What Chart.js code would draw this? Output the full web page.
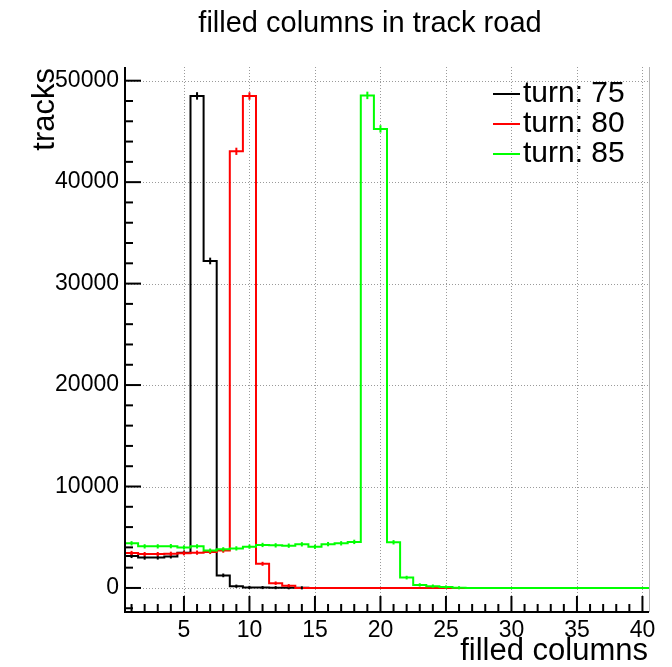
<!DOCTYPE html>
<html>
<head>
<meta charset="utf-8">
<style>
  html, body { margin: 0; padding: 0; background: #ffffff; }
  canvas { display: block; }
</style>
<script src="https://cdn.jsdelivr.net/npm/chart.js@4/dist/chart.umd.min.js"></script>
</head>
<body>
<canvas id="chart" width="672" height="667"></canvas>
<script>
// Bin centres (unit-width bins from 0.5 to 40.5)
const binCenters = [1, 2, 3, 4, 5, 6, 7, 8, 9, 10, 11, 12, 13, 14, 15, 16, 17, 18, 19, 20,
                    21, 22, 23, 24, 25, 26, 27, 28, 29, 30, 31, 32, 33, 34, 35, 36, 37, 38, 39, 40];

// Track counts per bin
const turn75 = [3150, 2990, 3000, 3110, 3480, 48500, 32230, 1240, 170, 50,
                40, 30, 20, 10, 0, 0, 0, 0, 0, 0,
                0, 0, 0, 0, 0, 0, 0, 0, 0, 0,
                0, 0, 0, 0, 0, 0, 0, 0, 0, 0];
const turn80 = [3450, 3340, 3340, 3370, 3420, 3480, 3550, 3680, 43040, 48490,
                2380, 470, 220, 0, 0, 0, 0, 0, 0, 0,
                0, 0, 0, 0, 0, 0, 0, 0, 0, 0,
                0, 0, 0, 0, 0, 0, 0, 0, 0, 0];
const turn85 = [4400, 4100, 4100, 4120, 3990, 4100, 3680, 3810, 3900, 4070,
                4240, 4200, 4170, 4300, 4060, 4320, 4400, 4540, 48550, 45250,
                4500, 1020, 300, 180, 90, 20, 0, 0, 0, 0,
                0, 0, 0, 0, 0, 0, 0, 0, 0, 0];

const seriesLabels = ['turn: 75', 'turn: 80', 'turn: 85'];
const seriesColors = ['#000000', '#ff0000', '#00ff00'];

// Axis ticks and ranges
const xTickValues = [5, 10, 15, 20, 25, 30, 35, 40];
const yTickValues = [0, 10000, 20000, 30000, 40000, 50000];
const xRange = [0.5, 40.5];
const yRange = [-2370, 51350];

const titleText = 'filled columns in track road';
const xTitleText = 'filled columns';
const yTitleText = 'tracks';

const FONT = "'Liberation Sans', Arial, Helvetica, sans-serif";

// Step outline: one point per bin low edge, plus the final high edge
function histPoints(values) {
  const pts = values.map((v, i) => ({ x: binCenters[i] - 0.5, y: v }));
  const last = values.length - 1;
  pts.push({ x: binCenters[last] + 0.5, y: values[last] });
  return pts;
}

function strokeLine(ctx, x1, y1, x2, y2) {
  ctx.beginPath();
  ctx.moveTo(x1, y1);
  ctx.lineTo(x2, y2);
  ctx.stroke();
}

// Grid, axes with inward ticks, error bars, legend and titles
const frameDecor = {
  id: 'frameDecor',
  beforeDatasetsDraw(chart) {
    const { ctx, chartArea: a, scales: { x, y } } = chart;
    ctx.save();
    ctx.strokeStyle = '#9a9a9a';
    ctx.lineWidth = 1;
    ctx.setLineDash([1, 2]);
    xTickValues.forEach(v => {
      const px = Math.round(x.getPixelForValue(v)) + 0.5;
      strokeLine(ctx, px, a.top, px, a.bottom);
    });
    yTickValues.forEach(v => {
      const py = Math.round(y.getPixelForValue(v)) + 0.5;
      strokeLine(ctx, a.left, py, a.right, py);
    });
    ctx.restore();
  },
  afterDatasetsDraw(chart) {
    const { ctx, chartArea: a, scales: { x, y } } = chart;
    ctx.save();

    // statistical error bars at bin centres
    ctx.lineWidth = 2;
    ctx.lineCap = 'butt';
    chart.data.datasets.forEach(ds => {
      ctx.strokeStyle = ds.borderColor;
      ds.bins.forEach((v, i) => {
        if (v <= 0) return;
        const e = Math.sqrt(v);
        const px = x.getPixelForValue(binCenters[i]);
        strokeLine(ctx, px, y.getPixelForValue(v + e) - 1.5, px, y.getPixelForValue(v - e) + 1.5);
      });
    });

    // right frame edge
    ctx.strokeStyle = '#b4b4b4';
    ctx.lineWidth = 1;
    strokeLine(ctx, a.right + 0.5, a.top, a.right + 0.5, a.bottom);

    // axis lines
    ctx.strokeStyle = '#000000';
    ctx.lineWidth = 2;
    strokeLine(ctx, a.left, a.top, a.left, a.bottom + 1);
    strokeLine(ctx, a.left - 1, a.bottom, a.right, a.bottom);

    // y ticks: major every 10000, minor every 2000
    for (let v = -2000; v <= 50000; v += 2000) {
      const py = y.getPixelForValue(v);
      if (py < a.top || py > a.bottom) continue;
      const len = v % 10000 === 0 ? 16 : 8;
      strokeLine(ctx, a.left, py, a.left + len, py);
    }
    // x ticks: major every 5, minor every 1
    for (let v = 1; v <= 40; v += 1) {
      const px = x.getPixelForValue(v);
      const len = v % 5 === 0 ? 16 : 8;
      strokeLine(ctx, px, a.bottom, px, a.bottom - len);
    }

    // legend
    ctx.font = `30px ${FONT}`;
    ctx.textAlign = 'left';
    ctx.textBaseline = 'alphabetic';
    chart.data.datasets.forEach((ds, i) => {
      const ly = 94 + i * 30;
      ctx.strokeStyle = ds.borderColor;
      ctx.lineWidth = 2;
      strokeLine(ctx, 493, ly, 520, ly);
      ctx.fillStyle = '#000000';
      ctx.fillText(ds.label, 523, ly + 8);
    });

    // titles
    ctx.fillStyle = '#000000';
    ctx.font = `29px ${FONT}`;
    ctx.textAlign = 'center';
    ctx.fillText(titleText, 370, 32);

    ctx.font = `31px ${FONT}`;
    ctx.textAlign = 'right';
    ctx.fillText(xTitleText, 648, 660);

    ctx.save();
    ctx.translate(54, 68);
    ctx.rotate(-Math.PI / 2);
    ctx.textAlign = 'right';
    ctx.fillText(yTitleText, 0, 0);
    ctx.restore();

    ctx.restore();
  }
};

const datasets = [turn75, turn80, turn85].map((vals, i) => ({
  label: seriesLabels[i],
  bins: vals,
  data: histPoints(vals),
  borderColor: seriesColors[i],
  borderWidth: 2,
  pointRadius: 0,
  stepped: 'before',
  fill: false,
  tension: 0,
  borderJoinStyle: 'miter',
  order: 3 - i
}));

function zeroPadding(s) {
  s.paddingLeft = 0; s.paddingRight = 0; s.paddingTop = 0; s.paddingBottom = 0;
}

new Chart(document.getElementById('chart'), {
  type: 'line',
  data: { datasets },
  options: {
    responsive: false,
    animation: false,
    devicePixelRatio: 1,
    layout: { padding: { left: 0, top: 67, right: 23, bottom: 0 } },
    plugins: {
      legend: { display: false },
      title: { display: false },
      tooltip: { enabled: false }
    },
    scales: {
      x: {
        type: 'linear',
        min: xRange[0],
        max: xRange[1],
        afterBuildTicks: s => { s.ticks = xTickValues.map(v => ({ value: v })); },
        afterFit: s => { s.height = 55; zeroPadding(s); },
        grid: { display: false, drawTicks: false },
        border: { display: false },
        ticks: {
          font: { family: FONT, size: 23 },
          color: '#000000',
          padding: 5,
          maxRotation: 0,
          autoSkip: false,
          callback: v => String(v)
        }
      },
      y: {
        type: 'linear',
        min: yRange[0],
        max: yRange[1],
        afterBuildTicks: s => { s.ticks = yTickValues.map(v => ({ value: v })); },
        afterFit: s => { s.width = 125; zeroPadding(s); },
        grid: { display: false, drawTicks: false },
        border: { display: false },
        ticks: {
          font: { family: FONT, size: 23 },
          color: '#000000',
          padding: 6,
          autoSkip: false,
          callback: v => String(v)
        }
      }
    }
  },
  plugins: [frameDecor]
});
</script>
</body>
</html>
